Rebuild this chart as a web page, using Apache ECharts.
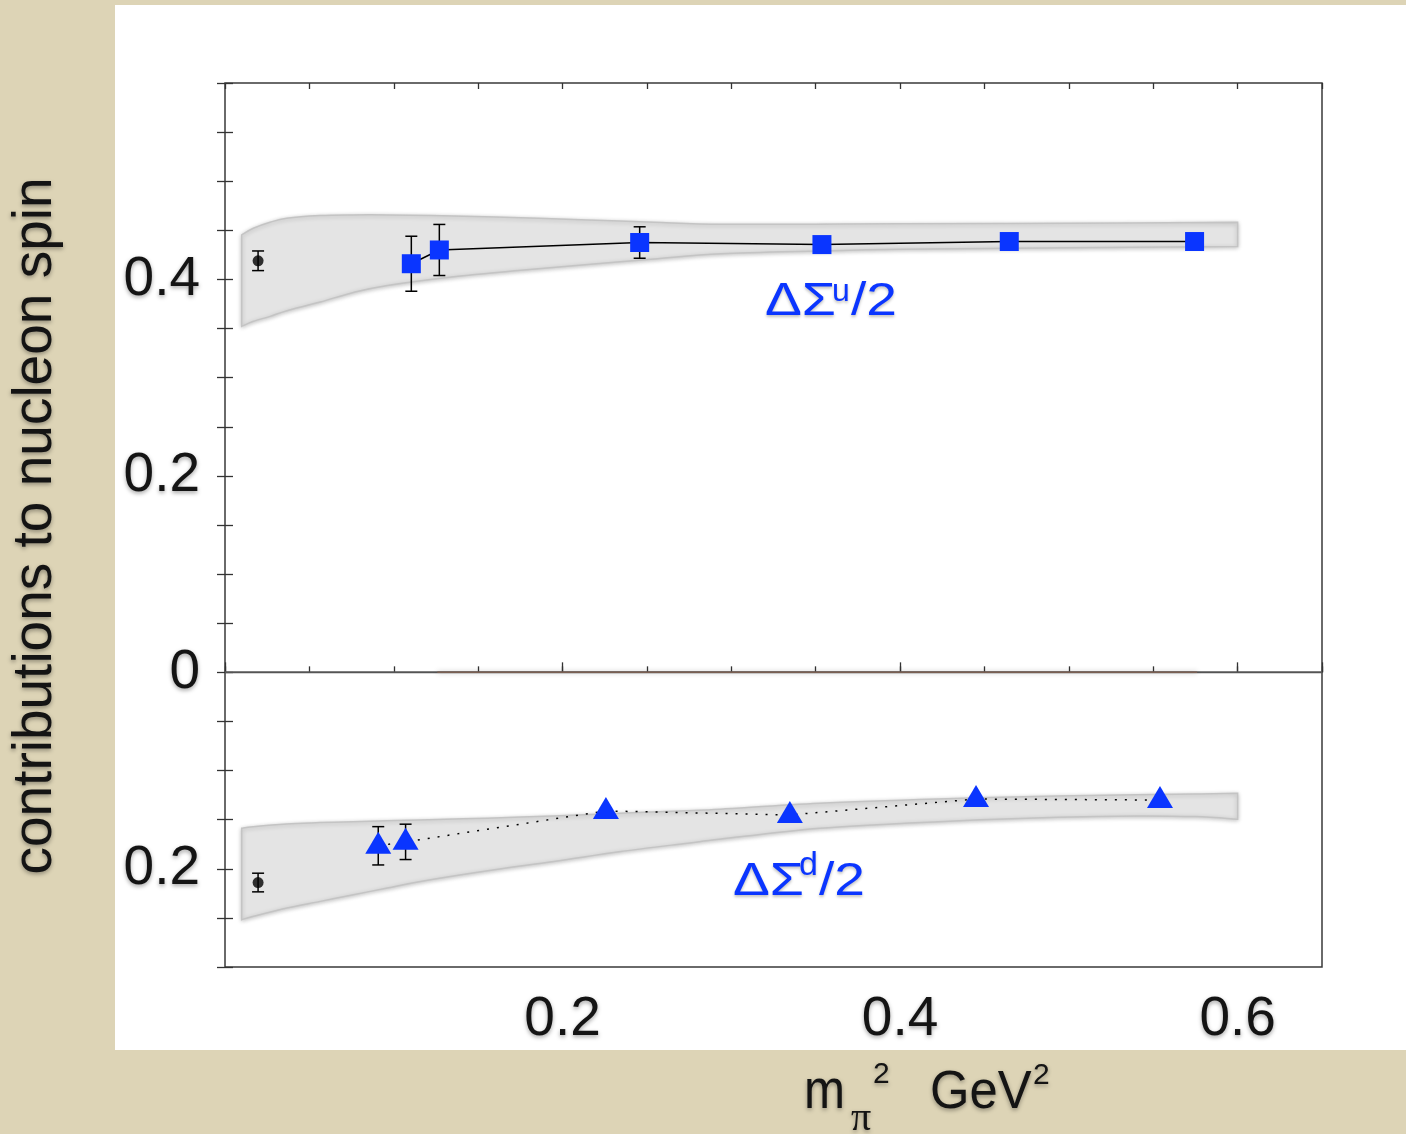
<!DOCTYPE html>
<html><head><meta charset="utf-8">
<script src="https://cdn.jsdelivr.net/npm/echarts@6/dist/echarts.min.js"></script>
<style>html,body{margin:0;padding:0;background:#ddd4b6;}#chart{width:1406px;height:1134px;}</style>
</head><body><div id="chart"></div>
<script>
// ---- data ----
const uLatX   = [0.1104, 0.127, 0.2457, 0.3537, 0.4647, 0.5745];
const uLatY   = [0.416, 0.430, 0.4376, 0.4355, 0.4386, 0.4386];
const uLatErr = [0.028, 0.026, 0.016, 0.004, 0.002, 0.002];
const dLatX   = [0.0908, 0.107, 0.2257, 0.3347, 0.445, 0.554];
const dLatY   = [-0.1766, -0.1726, -0.1411, -0.1452, -0.129, -0.130];
const dLatErr = [0.0195, 0.018, 0.003, 0.002, 0.002, 0.002];
const physX    = [0.0196];
const uPhysY   = [0.419];
const uPhysErr = [0.010];
const dPhysY   = [-0.214];
const dPhysErr = [0.0095];
const uBandX     = [0.0099, 0.0168, 0.0267, 0.0366, 0.0564, 0.0760, 0.0961, 0.1353, 0.1751, 0.2148, 0.2540, 0.2938, 0.35, 0.4, 0.5, 0.6];
const uBandUpper = [0.4454, 0.4521, 0.4582, 0.4623, 0.4650, 0.4657, 0.4657, 0.4647, 0.4629, 0.4606, 0.4582, 0.4562, 0.4563, 0.4566, 0.4572, 0.4581];
const uBandLower = [0.3523, 0.3574, 0.3624, 0.3682, 0.3770, 0.3868, 0.3939, 0.4028, 0.4093, 0.4152, 0.4208, 0.4261, 0.4289, 0.4307, 0.4322, 0.4335];
const dBandX     = [0.0099, 0.0168, 0.0366, 0.0564, 0.0760, 0.0961, 0.1157, 0.1555, 0.1947, 0.2344, 0.2742, 0.2938, 0.3523, 0.4226, 0.4932, 0.5401, 0.5751, 0.6];
const dBandUpper = [-0.1587, -0.1571, -0.1543, -0.1530, -0.1520, -0.1511, -0.1503, -0.1485, -0.1462, -0.1434, -0.1408, -0.1394, -0.1333, -0.1289, -0.1259, -0.1246, -0.1239, -0.1231];
const dBandLower = [-0.2518, -0.2484, -0.2399, -0.2332, -0.2264, -0.2196, -0.2129, -0.2020, -0.1926, -0.1824, -0.1739, -0.1698, -0.1587, -0.1520, -0.1475, -0.1462, -0.1469, -0.1495];
const zeroLineX  = [0, 0.65];
const zeroShadeX = [0.1258, 0.576];
const xTickValues = [0.2, 0.4, 0.6];
const xTickLabels = ['0.2', '0.4', '0.6'];
const yTickValues = [-0.2, 0, 0.2, 0.4];
const yTickLabels = ['0.2', '0', '0.2', '0.4'];

// ---- helpers ----
const zip = (xs, ys) => xs.map((x, i) => [x, ys[i]]);
const lookup = (vals, labels) => v => {
  for (let i = 0; i < vals.length; i++) if (Math.abs(v - vals[i]) < 1e-6) return labels[i];
  return '';
};
const BLUE = '#0a35ff';
const TXT = '#141414';
const shadowTxt = {textShadowColor: 'rgba(0,0,0,0.35)', textShadowBlur: 4, textShadowOffsetY: 2};
const shadowBlue = {textShadowColor: 'rgba(0,0,0,0.25)', textShadowBlur: 3, textShadowOffsetY: 2};

function errRender(params, api) {
  const x = api.value(0), y = api.value(1), e = api.value(2);
  const t = api.coord([x, y + e]), b = api.coord([x, y - e]);
  const hw = 6, st = {stroke: '#000', lineWidth: 1.5};
  return {type: 'group', children: [
    {type: 'line', shape: {x1: t[0], y1: t[1], x2: b[0], y2: b[1]}, style: st},
    {type: 'line', shape: {x1: t[0] - hw, y1: t[1], x2: t[0] + hw, y2: t[1]}, style: st},
    {type: 'line', shape: {x1: b[0] - hw, y1: b[1], x2: b[0] + hw, y2: b[1]}, style: st}
  ]};
}
function errSeries(xs, ys, es) {
  return {type: 'custom', renderItem: errRender, z: 3, silent: true,
    dimensions: ['x', 'y', 'e'], encode: {x: 0, y: 1},
    data: xs.map((x, i) => [x, ys[i], es[i]])};
}
// smooth curve (Catmull-Rom -> cubic bezier) through pixel points
function curve(pts, start) {
  let d = start ? 'M' + pts[0][0] + ',' + pts[0][1] : 'L' + pts[0][0] + ',' + pts[0][1];
  for (let i = 0; i < pts.length - 1; i++) {
    const p0 = pts[Math.max(i - 1, 0)], p1 = pts[i], p2 = pts[i + 1], p3 = pts[Math.min(i + 2, pts.length - 1)];
    const c1 = [p1[0] + (p2[0] - p0[0]) / 6, p1[1] + (p2[1] - p0[1]) / 6];
    const c2 = [p2[0] - (p3[0] - p1[0]) / 6, p2[1] - (p3[1] - p1[1]) / 6];
    d += 'C' + c1[0] + ',' + c1[1] + ',' + c2[0] + ',' + c2[1] + ',' + p2[0] + ',' + p2[1];
  }
  return d;
}
function bandSeries(xs, lo, hi) {
  return {type: 'custom', z: 1, silent: true, data: [[xs[0], hi[0]]], encode: {x: 0, y: 1},
    renderItem: function (params, api) {
      const top = xs.map((x, i) => api.coord([x, hi[i]]));
      const bot = xs.map((x, i) => api.coord([x, lo[i]])).reverse();
      const pathData = curve(top, true) + curve(bot, false) + 'Z';
      return {type: 'path', shape: {pathData: pathData},
        style: {fill: '#e4e4e4', stroke: '#c4c4c4', lineWidth: 1.5,
          shadowColor: 'rgba(0,0,0,0.22)', shadowBlur: 4, shadowOffsetY: 1}};
    }};
}

const chart = echarts.init(document.getElementById('chart'), null, {renderer: 'canvas'});
const axTick = len => ({show: true, inside: true, length: len, lineStyle: {color: '#333', width: 1.3}});
const txt = (x, y, text, font, fill, extra, sx) => ({type: 'text', x: x, y: y, z: 10, scaleX: sx || 1,
  style: Object.assign({text: text, font: font, fill: fill, align: 'left', verticalAlign: 'middle'}, extra)});
const option = {
  animation: false,
  backgroundColor: '#ddd4b6',
  grid: {left: 225, top: 83, width: 1097, height: 884, show: true, borderColor: '#3a3a3a', borderWidth: 1.5, backgroundColor: 'transparent'},
  xAxis: [
    {type: 'value', min: 0, max: 0.65, interval: 0.05, position: 'bottom',
      axisLine: {show: false}, axisTick: axTick(6), axisLabel: {show: false}, splitLine: {show: false}},
    {type: 'value', min: 0, max: 0.65, interval: 0.2, position: 'bottom',
      axisLine: {show: false}, axisTick: axTick(10), splitLine: {show: false},
      axisLabel: {show: true, margin: 25, fontSize: 55, fontFamily: 'Liberation Sans', color: TXT,
        formatter: lookup(xTickValues, xTickLabels), ...shadowTxt}},
    {type: 'value', min: 0, max: 0.65, interval: 0.05, position: 'top',
      axisLine: {show: false}, axisTick: axTick(6), axisLabel: {show: false}, splitLine: {show: false}}
  ],
  yAxis: [
    {type: 'value', min: -0.3, max: 0.6, interval: 0.05, position: 'left',
      axisLine: {show: false}, axisTick: axTick(8), splitLine: {show: false},
      axisLabel: {show: true, margin: 25, fontSize: 55, fontFamily: 'Liberation Sans', color: TXT,
        formatter: lookup(yTickValues, yTickLabels), ...shadowTxt}},
    {type: 'value', min: -0.3, max: 0.6, interval: 0.05, position: 'right',
      axisLine: {show: false}, axisTick: axTick(8), axisLabel: {show: false}, splitLine: {show: false}}
  ],
  graphic: [
    {type: 'rect', z: -100, shape: {x: 115, y: 5, width: 1291, height: 1045}, style: {fill: '#ffffff'}},
    {type: 'text', x: 36, y: 526, rotation: Math.PI / 2, z: 10,
      style: Object.assign({text: 'contributions to nucleon spin', font: '55px "Liberation Sans"', fill: TXT,
        align: 'center', verticalAlign: 'middle'}, shadowTxt)},
    txt(804, 1093, 'm', '56px "Liberation Sans"', TXT, shadowTxt, 0.88),
    txt(851, 1119, 'π', '40px "Liberation Serif"', TXT, shadowTxt),
    txt(873, 1075, '2', '30px "Liberation Sans"', TXT, shadowTxt),
    txt(930, 1093, 'GeV', '54px "Liberation Sans"', TXT, shadowTxt, 0.94),
    txt(1033, 1076, '2', '30px "Liberation Sans"', TXT, shadowTxt),
    txt(765, 302, 'ΔΣ', '46px "Liberation Sans"', BLUE, shadowBlue, 1.2),
    txt(832, 292, 'u', '32px "Liberation Sans"', BLUE, shadowBlue, 1.0),
    txt(851, 302, '/2', '46px "Liberation Sans"', BLUE, shadowBlue, 1.2),
    txt(733, 882, 'ΔΣ', '46px "Liberation Sans"', BLUE, shadowBlue, 1.2),
    txt(799, 866, 'd', '34px "Liberation Sans"', BLUE, shadowBlue, 1.0),
    txt(819, 882, '/2', '46px "Liberation Sans"', BLUE, shadowBlue, 1.2)
  ],
  series: [
    bandSeries(uBandX, uBandLower, uBandUpper),
    bandSeries(dBandX, dBandLower, dBandUpper),
    {name: 'zero', type: 'line', symbol: 'none', silent: true, z: 2,
      data: zeroLineX.map(x => [x, 0]), lineStyle: {color: '#555', width: 2}},
    {name: 'zeroShade', type: 'line', symbol: 'none', silent: true, z: 2,
      data: zeroShadeX.map(x => [x, 0]),
      lineStyle: {color: '#7a5f52', width: 1.5, shadowColor: 'rgba(0,0,0,0.3)', shadowBlur: 5}},
    errSeries(uLatX, uLatY, uLatErr),
    errSeries(dLatX, dLatY, dLatErr),
    errSeries(physX, uPhysY, uPhysErr),
    errSeries(physX, dPhysY, dPhysErr),
    {name: 'ΔΣu/2', type: 'line', data: zip(uLatX, uLatY), symbol: 'rect', symbolSize: 19, z: 4,
      itemStyle: {color: BLUE}, lineStyle: {color: '#000', width: 1.5}},
    {name: 'ΔΣd/2', type: 'line', data: zip(dLatX, dLatY), symbol: 'triangle', symbolSize: [26, 22], symbolOffset: [0, -3], z: 4,
      itemStyle: {color: BLUE}, lineStyle: {color: '#000', width: 1.5, type: [2, 8]}},
    {name: 'physU', type: 'scatter', data: zip(physX, uPhysY), symbol: 'circle', symbolSize: 11, z: 4, itemStyle: {color: '#000'}},
    {name: 'physD', type: 'scatter', data: zip(physX, dPhysY), symbol: 'circle', symbolSize: 11, z: 4, itemStyle: {color: '#000'}}
  ]
};
chart.setOption(option);
</script></body></html>
